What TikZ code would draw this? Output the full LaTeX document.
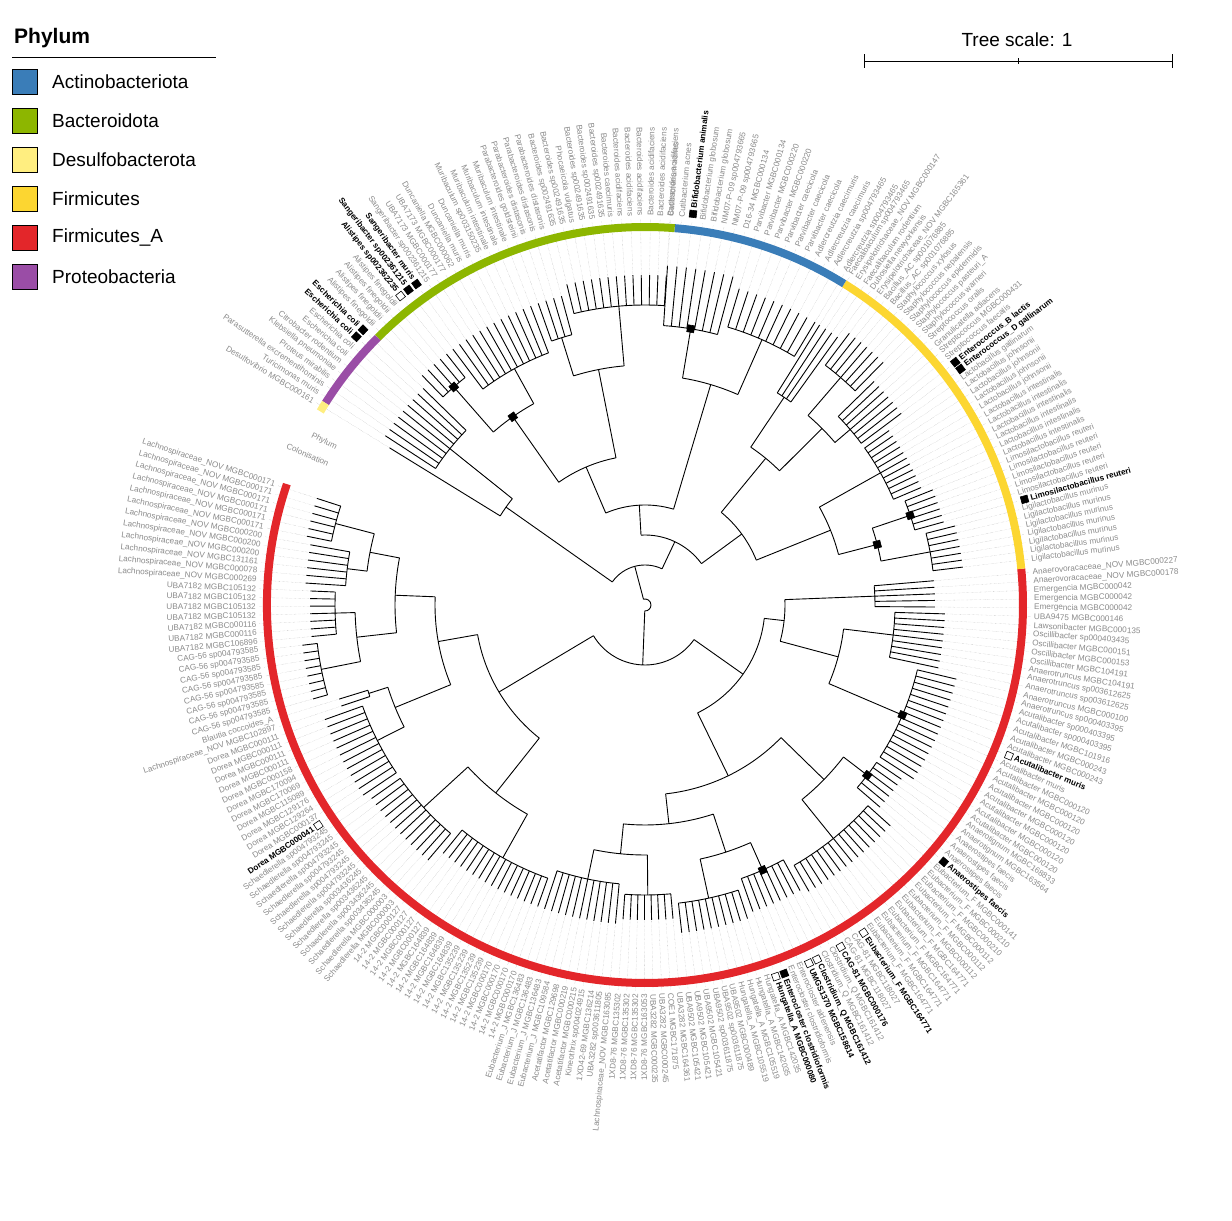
\documentclass[tikz,border=0pt]{standalone}
\usepackage{fontspec}
\setmainfont{Liberation Sans}
\definecolor{lab}{HTML}{8A8A8A}
\definecolor{cAct}{HTML}{3A7DB8}
\definecolor{cBac}{HTML}{8DB600}
\definecolor{cDes}{HTML}{FFEE80}
\definecolor{cFir}{HTML}{FCD631}
\definecolor{cFiA}{HTML}{E3262A}
\definecolor{cPro}{HTML}{9A4DA6}
\tikzset{branch/.style={black,line width=0.9pt},
 guide/.style={lab!80,line width=0.3pt,densely dotted},
 leaflab/.style={font=\fontsize{8.2}{9}\selectfont,text=lab,inner sep=0pt},
 boldlab/.style={font=\fontsize{8.2}{9}\selectfont\bfseries,inner sep=0pt},
 sqbox/.style={draw=black,line width=0.6pt,minimum size=7pt,inner sep=0pt},
 ringseg/.style={line width=8pt},
 legbox/.style={draw=black,line width=0.6pt,minimum size=25pt,inner sep=0pt},
 legtxt/.style={font=\fontsize{19}{22}\selectfont,anchor=west,inner sep=0pt}}
\newcommand\setg[2]{\xdef\curang{#1}\xdef\stp{#2}}
\newcommand\bc[2]{\xdef\first{\curang}\xdef\base{#1}\xdef\tip{#2}}
\newcommand\lf[2][g]{%
 \pgfmathsetmacro\A{\curang}%
 \draw[branch] (\A:\base) -- (\A:\tip);%
 \draw[guide] (\A:\tip) -- (\A:386);%
 \pgfmathtruncatemacro\isleft{cos(\A)<0}%
 \ifnum\isleft=1 \pgfmathsetmacro\rot{\A+180}\def\anc{east}\else\pgfmathsetmacro\rot{\A}\def\anc{west}\fi
 \if g#1\node[leaflab,rotate=\rot,anchor=\anc] at (\A:389) {#2};%
 \else\if w#1\def\sqc{white}\else\def\sqc{black}\fi
   \node[sqbox,rotate=\A,fill=\sqc] at (\A:394) {};%
   \node[boldlab,rotate=\rot,anchor=\anc] at (\A:400) {#2};\fi
 \pgfmathsetmacro\nA{\curang+\stp}\xdef\curang{\nA}}
\newcommand\rp[3][g]{\foreach \ii in {1,...,#2}{\lf[#1]{#3}}}
\newcommand\ec[1]{%
 \pgfmathsetmacro\last{\curang-\stp}%
 \draw[branch] (\first:\base) arc[start angle=\first,end angle=\last,radius=\base];%
 \pgfmathsetmacro\mid{(\first+\last)/2}%
 \expandafter\xdef\csname M#1\endcsname{\mid}%
 \expandafter\xdef\csname R#1\endcsname{\base}}
\newcommand\pn[3]{\gdef\pfirst{}%
 \foreach \c in {#3}{%
  \edef\ma{\csname M\c\endcsname}\edef\ra{\csname R\c\endcsname}%
  \draw[branch] (\ma:#2) -- (\ma:\ra);%
  \ifx\pfirst\empty\xdef\pfirst{\ma}\fi\xdef\plast{\ma}}%
 \draw[branch] (\pfirst:#2) arc[start angle=\pfirst,end angle=\plast,radius=#2];%
 \pgfmathsetmacro\mid{(\pfirst+\plast)/2}%
 \expandafter\xdef\csname M#1\endcsname{\mid}%
 \expandafter\xdef\csname R#1\endcsname{#2}}
\newcommand\nsq[1]{\edef\ma{\csname M#1\endcsname}\edef\ra{\csname R#1\endcsname}%
 \node[sqbox,fill=black,rotate=\ma] at (\ma:\ra) {};}
\begin{document}
\begin{tikzpicture}[x=1pt,y=1pt]
\useasboundingbox (0,0) rectangle (1232,1221);
\begin{scope}[shift={(645,616)}]
% ---- Firmicutes_A
\setg{162}{1.30}
\bc{320}{345}\rp{6}{Lachnospiraceae\_NOV MGBC000171}\ec{R1}
\bc{300}{340}\rp{3}{Lachnospiraceae\_NOV MGBC000200}\lf{Lachnospiraceae\_NOV MGBC131161}\lf{Lachnospiraceae\_NOV MGBC000078}\lf{Lachnospiraceae\_NOV MGBC000269}\ec{R2}
\bc{310}{335}\rp{4}{UBA7182 MGBC105132}\rp{2}{UBA7182 MGBC000116}\lf{UBA7182 MGBC106896}\ec{R3}
\bc{330}{345}\rp{8}{CAG-56 sp004793585}\ec{R4}
\bc{290}{320}\lf{Blautia coccoides\_A}\lf{Lachnospiraceae\_NOV MGBC102897}\ec{R5}
\bc{300}{340}\rp{4}{Dorea MGBC000111}\lf{Dorea MGBC000158}\lf{Dorea MGBC170094}\lf{Dorea MGBC170069}\lf{Dorea MGBC115089}\lf{Dorea MGBC129176}\lf{Dorea MGBC129264}\lf{Dorea MGBC000137}\lf[w]{Dorea MGBC000041}\ec{R6}
\bc{300}{335}\rp{6}{Schaedlerella sp004793245}\rp{4}{Schaedlerella sp003436245}\rp{2}{Schaedlerella MGBC000003}\ec{R7}
\bc{290}{320}\rp{4}{14-2 MGBC000127}\rp{4}{14-2 MGBC164839}\rp{4}{14-2 MGBC135239}\rp{4}{14-2 MGBC000170}\ec{R8}
\bc{280}{320}\rp{3}{Eubacterium\_J MGBC136483}\lf{Eubacterium\_J MGBC109584}\lf{Acetatifactor MGBC129698}\lf{Acetatifactor MGBC000219}\lf{Acetatifactor MGBC000215}\lf{Kineothrix sp004024915}\lf{1XD42-69 MGBC136214}\lf{UBA3282 sp003611805}\lf{Lachnospiraceae\_NOV MGBC163085}\ec{R9}
\bc{290}{315}\rp{3}{1XD8-76 MGBC135302}\lf{1XD8-76 MGBC163053}\lf{UBA3282 MGBC000235}\lf{UBA3282 MGBC000245}\lf{COE1 MGBC171875}\lf{UBA3282 MGBC164361}\ec{R10}
\bc{300}{330}\rp{3}{UBA9502 MGBC105421}\rp{2}{UBA9502 sp003611875}\lf{UBA9502 MGBC000489}\rp{2}{Hungatella\_A MGBC105519}\rp{2}{Hungatella\_A MGBC142035}\ec{R11}
\bc{290}{325}\lf[w]{Hungatella\_A MGBC000080}\lf[k]{Enterocloster clostridioformis}\lf{Enterocloster clostridioformis}\lf{Enterocloster aldenensis}\lf[w]{UMGS1370 MGBC158614}\lf[w]{Clostridium\_Q MGBC161412}\lf{Clostridium\_Q MGBC161412}\lf{Clostridium\_Q MGBC161412}\ec{R12}
\bc{300}{330}\lf[w]{CAG-81 MGBC000176}\rp{2}{CAG-81 MGBC118027}\lf[w]{Eubacterium\_F MGBC164771}\rp{5}{Eubacterium\_F MGBC164771}\rp{3}{Eubacterium\_F MGBC000112}\rp{2}{Eubacterium\_F MGBC000210}\lf{Eubacterium\_F MGBC000141}\ec{R13}
\bc{280}{310}\lf[k]{Anaerostipes faecis}\rp{3}{Anaerostipes faecis}\lf{Anaerotignum MGBC163564}\lf{Anaerotignum MGBC168833}\ec{R14}
\bc{280}{320}\rp{7}{Acutalibacter MGBC000120}\lf{Acutalibacter muris}\lf[w]{Acutalibacter muris}\rp{2}{Acutalibacter MGBC000243}\lf{Acutalibacter MGBC101916}\rp{2}{Acutalibacter sp000403395}\lf{Anaerotruncus sp000403395}\lf{Anaerotruncus MGBC000100}\ec{R15}
\bc{250}{300}\rp{2}{Anaerotruncus sp003612625}\lf{Anaerotruncus MGBC104191}\lf{Oscillibacter MGBC104191}\lf{Oscillibacter MGBC000153}\lf{Oscillibacter MGBC000151}\lf{Oscillibacter sp000403435}\lf{Lawsonibacter MGBC000135}\lf{UBA9475 MGBC000146}\ec{R16}
\bc{230}{290}\rp{3}{Emergencia MGBC000042}\lf{Anaerovoracaceae\_NOV MGBC000178}\lf{Anaerovoracaceae\_NOV MGBC000227}\ec{R17}
% ---- Firmicutes
\setg{366.8}{1.25}
\bc{290}{320}\rp{7}{Ligilactobacillus murinus}\ec{F1}
\bc{280}{310}\lf[k]{Limosilactobacillus reuteri}\rp{5}{Limosilactobacillus reuteri}\ec{F2}
\bc{270}{300}\rp{6}{Lactobacillus intestinalis}\rp{4}{Lactobacillus johnsonii}\lf{Lactobacillus gallinarum}\ec{F3}
\bc{270}{320}\lf[k]{Enterococcus\_D gallinarum}\lf[k]{Enterococcus\_B lactis}\lf{Streptococcus faecalis}\lf{Streptococcus MGBC000431}\lf{Granulicatella adiacens}\lf{Streptococcus oralis}\lf{Staphylococcus warneri}\ec{F4}
\bc{300}{340}\lf{Staphylococcus pasteuri\_A}\lf{Staphylococcus epidermidis}\lf{Staphylococcus nepalensis}\lf{Staphylococcus xylosus}\rp{2}{Bacillus\_AC sp001076885}\lf{Erysipelotrichaceae\_NOV MGBC165361}\ec{F5}
\bc{250}{330}\lf{Dubosiella newyorkensis}\lf{Faecalibaculum rodentium}\lf{Erysipelotrichaceae\_NOV MGBC000147}\lf{Faecalibaculum sp004793465}\ec{F6}
% ---- Actinobacteriota
\setg{419}{1.6}
\bc{290}{330}\rp{2}{Adlercreutzia sp004793465}\rp{2}{Adlercreutzia caecimuris}\rp{3}{Parvibacter caecicola}\rp{2}{Parvibacter MGBC000220}\lf{Parvibacter MGBC000134}\ec{A1}
\bc{280}{340}\lf{D16-34 MGBC000134}\rp{2}{NM07-P-09 sp004793665}\rp{2}{Bifidobacterium globosum}\lf[k]{Bifidobacterium animalis}\rp{2}{Cutibacterium acnes}\ec{A2}
% ---- Bacteroidota
\setg{446.3}{1.45}
\bc{300}{330}\rp{6}{Bacteroides acidifaciens}\lf{Bacteroides caecimuris}\rp{3}{Bacteroides sp002491635}\lf{Phocaeicola vulgatus}\rp{2}{Bacteroides sp002491635}\ec{B1}
\bc{280}{320}\rp{3}{Parabacteroides distasonis}\lf{Parabacteroides goldsteinii}\ec{B2}
\bc{270}{320}\rp{3}{Muribaculum intestinale}\lf{Muribaculum sp003150235}\rp{2}{Duncaniella muris}\lf{Duncaniella MGBC000062}\rp{2}{UBA7173 MGBC000177}\lf{Sangeribacter sp002361215}\lf[k]{Sangeribacter muris}\lf[k]{Sangeribacter sp002361215}\ec{B3}
\bc{290}{320}\lf[w]{Alistipes sp002362235}\rp{4}{Alistipes finegoldii}\ec{B4}
% ---- Proteobacteria / Desulfobacterota
\setg{495.7}{1.4}
\bc{250}{310}\rp[k]{2}{Escherichia coli}\rp{2}{Escherichia coli}\lf{Citrobacter rodentium}\lf{Klebsiella pneumoniae}\lf{Proteus mirabilis}\lf{Parasutterella excrementihominis}\lf{Turicimonas muris}\ec{P1}
\setg{508.4}{1.4}
\bc{200}{300}\lf{Desulfovibrio MGBC000161}\ec{D1}
% ---- tree topology
\pn{R12n}{280}{R1,R2}\pn{R34}{290}{R3,R4}\pn{RLa}{250}{R12n,R34}
\pn{RLb}{270}{R5,R6}\pn{RL}{210}{RLa,RLb}
\pn{RM}{240}{R7,R8}\pn{RLeft}{170}{RL,RM}
\pn{RN}{250}{R9,R10}\pn{RO}{260}{R11,R12}\pn{RP}{220}{RN,RO}
\pn{RQ}{250}{R13,R14}\pn{RBot}{190}{RP,RQ}
\pn{RS}{200}{R15,R16}\pn{RT}{140}{RS,R17}\pn{RRight}{120}{RBot,RT}
\pn{RED}{60}{RLeft,RRight}
\pn{F12}{240}{F1,F2}\pn{FL}{200}{F12,F3}\pn{F45}{250}{F4,F5}\pn{F456}{190}{F45,F6}\pn{FIRM}{120}{FL,F456}
\pn{ACT}{230}{A1,A2}
\pn{BA}{240}{B1,B2}\pn{BB}{230}{B3,B4}\pn{BAC}{150}{BA,BB}
\pn{AB}{100}{ACT,BAC}\pn{GP}{70}{FIRM,AB}
\pn{PD}{170}{P1,D1}\pn{UP}{40}{GP,PD}
\pn{ROOT}{6}{RED,UP}
\nsq{F2}\nsq{F12}\nsq{A2}\nsq{B4}\nsq{BB}\nsq{R15}\nsq{R14}\nsq{R12}
% ---- phylum ring
\draw[ringseg,cFiA] (161.35:378) arc[start angle=161.35,end angle=365.5,radius=378];
\draw[ringseg,cFir] (365.5:378) arc[start angle=365.5,end angle=418.2,radius=378];
\draw[ringseg,cAct] (418.2:378) arc[start angle=418.2,end angle=445.5,radius=378];
\draw[ringseg,cBac] (445.5:378) arc[start angle=445.5,end angle=495,radius=378];
\draw[ringseg,cPro] (495:378) arc[start angle=495,end angle=507.7,radius=378];
\draw[ringseg,cDes] (507.7:378) arc[start angle=507.7,end angle=509.2,radius=378];
\node[leaflab,rotate=333,anchor=west] (phylab) at (153:374) {Phylum};
\node[leaflab,rotate=336,anchor=west] (collab) at (156:392) {Colonisation};
\end{scope}
% ---- legend
\node[font=\fontsize{21}{24}\selectfont\bfseries,anchor=west,inner sep=0pt] (legtitle) at (14,1183) {Phylum};
\draw[line width=1pt] (12,1163) -- (216,1163);
\foreach \c/\t [count=\i] in {cAct/Actinobacteriota,cBac/Bacteroidota,cDes/Desulfobacterota,cFir/Firmicutes,cFiA/Firmicutes\_A,cPro/Proteobacteria}{
 \node[legbox,fill=\c] (lb\i) at (25,1221-82-39*\i+39) {};
 \node[legtxt] (lt\i) at (52,1221-82-39*\i+39) {\t};}
% ---- scale
\draw[line width=0.8pt] (864,1160) -- (1172,1160);
\draw[line width=0.8pt] (864,1153) -- (864,1167) (1172,1153) -- (1172,1167) (1018,1157) -- (1018,1163);
\node[font=\fontsize{19}{22}\selectfont,inner sep=0pt] (scl) at (1017,1181) {Tree scale: 1};
\end{tikzpicture}
\end{document}
